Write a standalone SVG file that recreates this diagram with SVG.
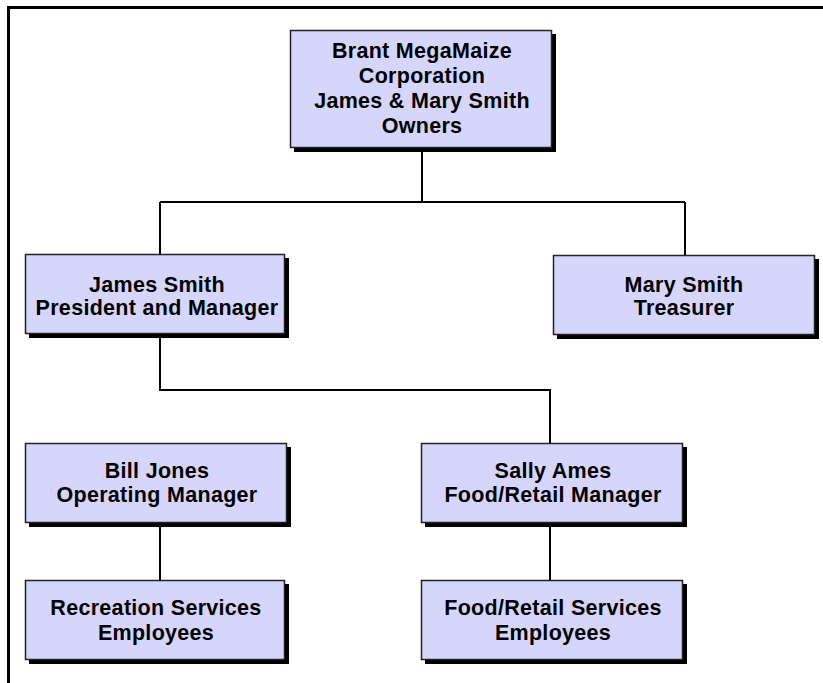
<svg xmlns="http://www.w3.org/2000/svg" width="823" height="683" viewBox="0 0 823 683">
<style>
.box{fill:#d6d6fc;stroke:#222;stroke-width:1.5}
.sh{fill:#000}
.t{font-family:"Liberation Sans",Arial,Helvetica,sans-serif;font-weight:bold;font-size:21.5px;letter-spacing:0.3px;fill:#000;text-anchor:middle}
.c{stroke:#000;stroke-width:2;fill:none}
</style>
<rect width="823" height="683" fill="#fff"/>
<g id="frame"><path d="M8.5,683 V7.5 H823" stroke="#000" stroke-width="3" fill="none"/></g>
<g id="connectors">
<path class="c" d="M422,150 V202"/>
<path class="c" d="M160,202 H685"/>
<path class="c" d="M160,202 V254"/>
<path class="c" d="M685,202 V255"/>
<path class="c" d="M160,336 V390 H550 V443"/>
<path class="c" d="M160,525 V580"/>
<path class="c" d="M550,525 V580"/>
</g>
<g id="owners">
<rect class="sh" x="294" y="34" width="262" height="118"/>
<rect class="box" x="290.5" y="30.5" width="261" height="117"/>
<text class="t" x="422" y="58">Brant MegaMaize</text>
<text class="t" x="422" y="83">Corporation</text>
<text class="t" x="422" y="108">James &amp; Mary Smith</text>
<text class="t" x="422" y="133">Owners</text>
</g>
<g id="james">
<rect class="sh" x="29" y="258" width="260" height="80"/>
<rect class="box" x="25.5" y="254.5" width="259" height="79"/>
<text class="t" x="157" y="292">James Smith</text>
<text class="t" x="157" y="315">President and Manager</text>
</g>
<g id="mary">
<rect class="sh" x="557" y="259" width="262" height="80"/>
<rect class="box" x="553.5" y="255.5" width="261" height="79"/>
<text class="t" x="684" y="292">Mary Smith</text>
<text class="t" x="684" y="315">Treasurer</text>
</g>
<g id="bill">
<rect class="sh" x="29" y="447" width="262" height="80"/>
<rect class="box" x="25.5" y="443.5" width="261" height="79"/>
<text class="t" x="157" y="478">Bill Jones</text>
<text class="t" x="157" y="502">Operating Manager</text>
</g>
<g id="sally">
<rect class="sh" x="425" y="447" width="262" height="80"/>
<rect class="box" x="421.5" y="443.5" width="261" height="79"/>
<text class="t" x="553" y="478">Sally Ames</text>
<text class="t" x="553" y="502">Food/Retail Manager</text>
</g>
<g id="recreation">
<rect class="sh" x="29" y="584" width="260" height="80"/>
<rect class="box" x="25.5" y="580.5" width="259" height="79"/>
<text class="t" x="156" y="615">Recreation Services</text>
<text class="t" x="156" y="640">Employees</text>
</g>
<g id="foodretail">
<rect class="sh" x="425" y="584" width="262" height="80"/>
<rect class="box" x="421.5" y="580.5" width="261" height="79"/>
<text class="t" x="553" y="615">Food/Retail Services</text>
<text class="t" x="553" y="640">Employees</text>
</g>
</svg>
